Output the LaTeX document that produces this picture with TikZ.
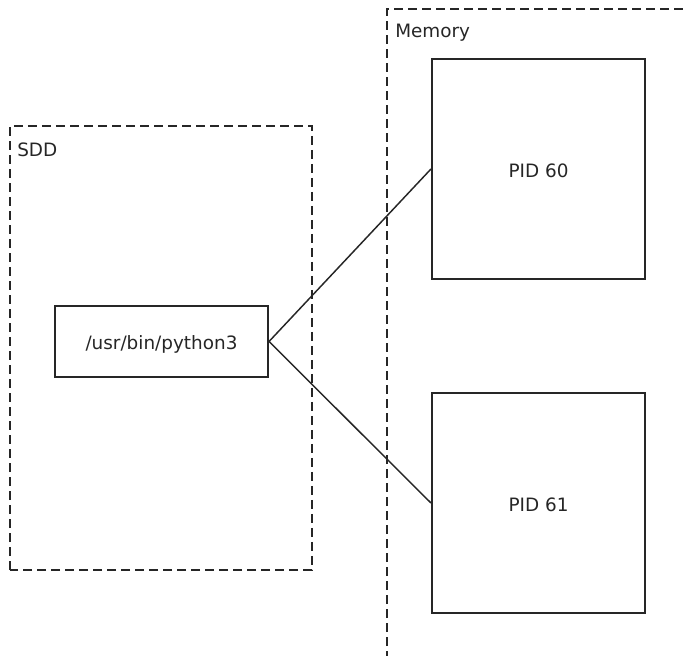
\documentclass[tikz,border=0pt]{standalone}
\usepackage{fontspec}
\setmainfont{DejaVu Sans}
\begin{document}
\begin{tikzpicture}[x=0.75pt,y=-0.75pt,
  every node/.style={font=\fontsize{13.8}{16}\selectfont, text=black!85},
  region/.style={draw=black!85, line width=1.3pt, dash pattern=on 6.5pt off 4pt},
  boxn/.style={draw=black!85, line width=1.3pt, rectangle, inner sep=0pt},
  link/.style={draw=black!85, line width=1.1pt}]
\useasboundingbox (0,0) rectangle (683,656);
% regions
\draw[region] (10,570) -- (10,126) -- (312,126) -- (312,570) -- cycle;
\draw[region] (387,660) -- (387,9) -- (690,9);
\node[anchor=base west, inner sep=0pt] (sddlbl) at (17,157) {SDD};
\node[anchor=base west, inner sep=0pt] (memlbl) at (395,38) {Memory};
% boxes
\node[boxn, minimum width=160pt, minimum height=53.25pt] (py) at (161.5,341.5) {\raisebox{-1pt}[10pt][0pt]{/usr/bin/python3}};
\node[boxn, minimum width=160pt, minimum height=165pt] (p60) at (538.5,169) {\raisebox{-1.5pt}[10pt][0pt]{PID 60}};
\node[boxn, minimum width=160pt, minimum height=165pt] (p61) at (538.5,503) {\raisebox{-1.5pt}[10pt][0pt]{PID 61}};
% links
\draw[link] (py.east) -- (p60.west);
\draw[link] (py.east) -- (p61.west);
\end{tikzpicture}
\end{document}
